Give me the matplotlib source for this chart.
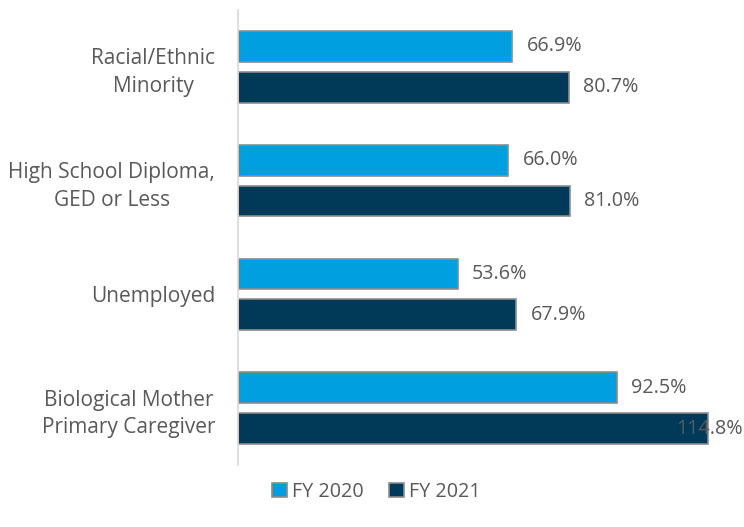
import matplotlib
matplotlib.use("Agg")
import matplotlib.pyplot as plt
import matplotlib.transforms as mtrans
import numpy as np

categories = ["Racial/Ethnic\nMinority", "High School Diploma,\nGED or Less", "Unemployed", "Biological Mother\nPrimary Caregiver"]
series_names = ["FY 2020", "FY 2021"]
fy2020 = [66.9, 66.0, 53.6, 92.5]
fy2021 = [80.7, 81.0, 67.9, 114.8]

colors = ["#009fdf", "#003a58"]
text_color = "#595959"
plt.rcParams['font.family'] = ['Open Sans', 'DejaVu Sans']

fig = plt.figure(figsize=(7.44, 5.27), dpi=100)
ax = fig.add_axes([238/744, 1-465/527, (732-238)/744, (465-10)/527])

y = np.arange(len(categories))
h = 0.27
off = 0.18
XMAX = 120.6
blend = mtrans.blended_transform_factory(fig.transFigure, ax.transData)
for vals, name, col, o in [(fy2020, series_names[0], colors[0], -off), (fy2021, series_names[1], colors[1], off)]:
    ax.barh(y + o, vals, height=h, color=col, edgecolor="#8c8c8c", linewidth=1.2, label=name)
    for yy, v in zip(y + o, vals):
        lbl = f"{v:.1f}%"
        if v > 110:
            ax.text(743/744, yy, lbl, ha="right", va="center", fontsize=14.2,
                    color=text_color, transform=blend)
        else:
            ax.annotate(lbl, (v, yy), xytext=(10.5, 0), textcoords="offset points",
                        ha="left", va="center", fontsize=14.2, color=text_color)

ax.set_xlim(0, XMAX)
ax.set_ylim(3.5, -0.5)
ax.set_yticks(y)
ax.set_yticklabels(categories, fontsize=15, color=text_color, ha="right",
                   multialignment="center", linespacing=1.4)
ax.tick_params(axis="y", length=0, pad=16.5)
ax.set_xticks([])
for s in ["top", "right", "bottom"]:
    ax.spines[s].set_visible(False)
ax.spines["left"].set_color("#d9d9d9")
ax.spines["left"].set_linewidth(1.2)

handles, labels = ax.get_legend_handles_labels()
fig.legend(handles, labels, loc="center", bbox_to_anchor=(376/744, 1-492/527), ncol=2,
           frameon=False, fontsize=14.2, labelcolor=text_color, handlelength=0.75, handleheight=0.75,
           handletextpad=0.25, columnspacing=1.3)

fig.savefig("out.png", dpi=100)
